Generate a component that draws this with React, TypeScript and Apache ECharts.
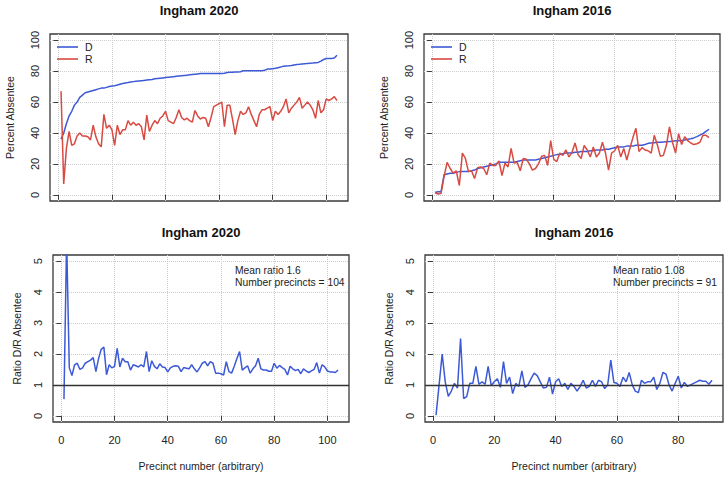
import React, { useEffect, useRef } from "react";
import * as echarts from "echarts";

// ---------- data ----------
const d2020 = [
  36, 40, 46, 51, 54, 58, 60, 63, 64.5, 66, 66.5, 67, 67.5, 68, 68.5, 69, 69, 69.5, 70, 70.3,
  70.6, 71, 71.5, 72, 72.3, 72.6, 73, 73.2, 73.4, 73.6, 73.8, 74, 74.2, 74.4, 74.6, 75, 75.2, 75.4, 75.6, 75.8,
  76, 76.2, 76.4, 76.6, 76.8, 77, 77.2, 77.4, 77.6, 77.8, 78, 78.2, 78.4, 78.5, 78.5, 78.5, 78.5, 78.5, 78.5, 78.5,
  78.5, 78.6, 79.1, 79.2, 79.3, 79.4, 79.5, 79.6, 80.2, 80.2, 80.2, 80.2, 80.2, 80.2, 80.2, 80.2, 80.5, 81.3, 81.4, 81.6,
  81.8, 82.2, 82.6, 83.2, 83.3, 83.4, 83.6, 84, 84.3, 84.4, 84.6, 84.8, 85, 85.1, 85.2, 85.4, 85.6, 86.5, 87.5, 88.2,
  88.2, 88.2, 88.5, 90.3,
];
const r2020 = [
  67, 7, 30, 41, 32, 33, 38, 40, 38, 38, 37.5, 35.5, 45, 37.5, 33, 31, 52, 43, 45, 42,
  32, 45, 39, 42, 42, 48, 45, 47, 45, 46, 44, 35.5, 51.5, 41, 45, 48, 46, 49.5, 51, 54,
  48, 47, 46, 50, 55, 50, 48.5, 49.5, 48, 47, 54.5, 51, 49, 50, 49.5, 44, 50, 57, 58, 59,
  60, 44, 58, 58, 49, 39, 48, 54, 52, 53, 57, 52, 48, 44, 52, 55, 55, 56, 57, 48,
  54, 52, 54, 57, 62, 53, 56, 58, 60, 63, 56, 58, 60, 58, 55, 49.5, 61, 53, 55, 62,
  61, 62, 63.5, 61,
];
const d2016 = [
  1.5, 2, 2, 13, 13.5, 14, 14, 14.5, 15, 15, 15, 15, 15.5, 16, 17, 17.5, 18, 18.5, 19, 19.5,
  20, 21, 21, 21, 21, 21, 21, 21.5, 22, 22.5, 22.5, 22.5, 22.5, 22.5, 23, 23.5, 24, 24.5, 25, 25.5,
  26, 26, 26.5, 27, 27, 27, 27.5, 27.5, 28, 28, 28, 28.5, 28.5, 29, 29, 29, 29.5, 29.5, 30, 30.5,
  31, 31, 31, 31.5, 31.5, 31.5, 32, 32, 32, 32.5, 33.3, 33.5, 33.7, 34, 34, 34.2, 34.3, 34.4, 34.6, 35,
  35, 35.2, 35.5, 35.9, 36.2, 36.8, 37.6, 38.6, 39.6, 41, 42.4,
];
const r2016 = [
  1.5, 0.5, 1, 12, 21, 17, 14, 15.5, 6, 27, 23.5, 15, 15.5, 10.5, 17.5, 18, 17, 13, 20.5, 19,
  19, 22, 12.5, 20.5, 18, 30, 20.5, 21, 15.5, 23.5, 23, 20, 16, 17, 20, 25, 25.5, 19, 35, 23,
  21.5, 27, 25.5, 29, 24.5, 27.5, 33.5, 26, 23.5, 32, 29, 24.5, 31, 24.5, 27, 34, 27, 16, 27, 28.5,
  32, 24.5, 30, 22.5, 30, 37, 43, 28, 30.5, 29, 28.5, 27, 38.5, 32.5, 25, 25.5, 32, 44, 34, 27,
  39.5, 32.5, 37.5, 35, 33.5, 32.5, 33, 34, 38.5, 38.5, 37,
];
const ratio2020 = [
  0.54, 5.7, 1.55, 1.3, 1.65, 1.7, 1.5, 1.55, 1.7, 1.75, 1.8, 1.88, 1.43, 1.85, 2.15, 2.22, 1.33, 1.65, 1.55, 1.6,
  2.18, 1.58, 1.86, 1.75, 1.75, 1.48, 1.65, 1.62, 1.58, 1.65, 1.58, 2.08, 1.43, 1.78, 1.6, 1.52, 1.68, 1.58, 1.56, 1.42,
  1.55, 1.6, 1.62, 1.6, 1.43, 1.56, 1.54, 1.52, 1.65, 1.52, 1.42, 1.55, 1.7, 1.75, 1.62, 1.75, 1.7, 1.38, 1.38, 1.36,
  1.32, 1.75, 1.43, 1.38, 1.6, 1.85, 2.08, 1.48, 1.55, 1.62, 1.38, 1.52, 1.62, 1.86, 1.52, 1.48, 1.48, 1.44, 1.44, 1.7,
  1.54, 1.63, 1.56, 1.5, 1.32, 1.6, 1.52, 1.46, 1.5, 1.36, 1.52, 1.45, 1.4, 1.45, 1.5, 1.72, 1.38, 1.65, 1.58, 1.45,
  1.42, 1.42, 1.4, 1.48,
];
const ratio2016 = [
  0.02, 1.0, 2.0, 1.1, 0.63, 0.8, 1.05, 0.9, 2.5, 0.56, 0.62, 1.05, 1.05, 1.6, 1.02, 1.1, 1.02, 1.6, 0.98, 1.1,
  1.2, 0.92, 1.75, 1.05, 1.25, 0.72, 1.05, 0.95, 1.45, 0.92, 1.0, 1.2, 1.38, 1.3, 1.1, 0.9, 0.92, 1.25, 0.7, 1.1,
  1.2, 0.95, 1.05, 0.85, 1.05, 0.95, 0.8, 0.95, 1.15, 0.9, 0.95, 1.15, 0.95, 1.15, 1.1, 0.88, 1.0, 1.8, 1.08, 1.05,
  0.95, 1.25, 1.1, 1.4, 1.0, 0.8, 0.75, 1.15, 1.05, 1.1, 1.1, 1.25, 0.85, 1.05, 1.4, 1.35, 1.0, 0.8, 1.05, 1.28,
  0.9, 1.08, 0.95, 1.0, 1.05, 1.1, 1.15, 1.12, 1.12, 1.02, 1.15,
];

const titles = ["Ingham 2020", "Ingham 2016", "Ingham 2020", "Ingham 2016"];
const notes2020 = ["Mean ratio 1.6", "Number precincts = 104"];
const notes2016 = ["Mean ratio 1.08", "Number precincts = 91"];
const xTicks2020 = [0, 20, 40, 60, 80, 100];
const xTicks2016 = [0, 20, 40, 60, 80];
const yTicksPct = [0, 20, 40, 60, 80, 100];
const yTicksRatio = [0, 1, 2, 3, 4, 5];

// ---------- styles ----------
const FONT = "'Liberation Sans', Arial, Helvetica, sans-serif";
const BLUE = "#3d5ad6";
const RED = "#d84a42";
const INK = "#222";
const FS = 10.5;

const pairs = (arr: number[]) => arr.map((v, i) => [i + 1, v]);
const pad = (lo: number, hi: number) => {
  const d = (hi - lo) * 0.04;
  return { min: lo - d, max: hi + d };
};

export default function App() {
  const ref = useRef<HTMLDivElement>(null);
  useEffect(() => {
    document.body.style.margin = "0";
    if (!ref.current) return;
    const chart = echarts.init(ref.current, undefined, { renderer: "svg" });

    const grids = [
      { left: 50, top: 34, width: 298, height: 167 },
      { left: 424, top: 34, width: 296, height: 167 },
      { left: 53, top: 255, width: 296, height: 167 },
      { left: 425, top: 255, width: 298, height: 167 },
    ].map((g) => ({ ...g, show: true, borderColor: "#3a3a3a", borderWidth: 1.3, containLabel: false }));

    const splitLine = { show: true, lineStyle: { type: "dotted" as const, color: "#cdcdcd", width: 1 } };
    const tick = (vals: number[]) => ({ show: true, length: 5, customValues: vals, lineStyle: { color: "#3a3a3a", width: 1 } });

    const xAxis = (gi: number, n: number, vals: number[], labels: boolean) => ({
      type: "value" as const,
      gridIndex: gi,
      ...pad(1, n),
      axisLine: { show: false },
      axisTick: tick(vals),
      axisLabel: { show: labels, customValues: vals, margin: 12, fontSize: 11, color: INK, fontFamily: FONT },
      splitLine,
      name: labels ? "Precinct number (arbitrary)" : "",
      nameLocation: "middle" as const,
      nameGap: 38,
      nameTextStyle: { fontSize: FS, color: INK, fontFamily: FONT },
    });
    const yAxis = (gi: number, lo: number, hi: number, vals: number[], name: string, gap: number) => ({
      type: "value" as const,
      gridIndex: gi,
      ...pad(lo, hi),
      axisLine: { show: false },
      axisTick: tick(vals),
      axisLabel: { show: true, customValues: vals, rotate: 90, margin: 10, fontSize: 11, color: INK, fontFamily: FONT },
      splitLine,
      name,
      nameLocation: "middle" as const,
      nameRotate: 90,
      nameGap: gap,
      nameTextStyle: { fontSize: FS, color: INK, fontFamily: FONT },
    });

    const line = (name: string, data: number[], color: string, gi: number, extra: any = {}) => ({
      type: "line" as const,
      name,
      xAxisIndex: gi,
      yAxisIndex: gi,
      data: pairs(data),
      symbol: "none",
      showSymbol: false,
      clip: true,
      lineStyle: { color, width: 1.5 },
      itemStyle: { color },
      ...extra,
    });
    const oneLine = {
      markLine: {
        silent: true,
        symbol: "none",
        label: { show: false },
        lineStyle: { color: "#333", width: 1.4, type: "solid" },
        data: [{ yAxis: 1 }],
      },
    };

    const titlePos = [
      [199, 10],
      [572, 10],
      [201, 232],
      [574, 232],
    ];
    const graphic: any[] = titles.map((t, i) => ({
      type: "text",
      x: titlePos[i][0],
      y: titlePos[i][1],
      style: { text: t, align: "center", verticalAlign: "middle", font: `bold 13px ${FONT}`, fill: "#111" },
    }));
    notes2020.forEach((t, i) =>
      graphic.push({ type: "text", x: 235, y: 270 + i * 12, style: { text: t, align: "left", verticalAlign: "middle", font: `10.3px ${FONT}`, fill: INK } })
    );
    notes2016.forEach((t, i) =>
      graphic.push({ type: "text", x: 613, y: 270 + i * 12, style: { text: t, align: "left", verticalAlign: "middle", font: `10.3px ${FONT}`, fill: INK } })
    );

    const legend = (left: number) => ({
      left,
      top: 41,
      padding: 0,
      orient: "vertical" as const,
      icon: "rect",
      itemWidth: 21,
      itemHeight: 1.6,
      itemGap: 0,
      selectedMode: false,
      data: ["D", "R"],
      textStyle: { fontSize: FS, lineHeight: 12, color: INK, fontFamily: FONT, padding: [0, 0, 0, 2] },
    });

    chart.setOption({
      animation: false,
      backgroundColor: "#fff",
      grid: grids,
      legend: [legend(57), legend(431)],
      xAxis: [
        xAxis(0, d2020.length, xTicks2020, false),
        xAxis(1, d2016.length, xTicks2016, false),
        xAxis(2, ratio2020.length, xTicks2020, true),
        xAxis(3, ratio2016.length, xTicks2016, true),
      ],
      yAxis: [
        yAxis(0, 0, 100, yTicksPct, "Percent Absentee", 35),
        yAxis(1, 0, 100, yTicksPct, "Percent Absentee", 35),
        yAxis(2, 0, 5, yTicksRatio, "Ratio D/R Absentee", 31),
        yAxis(3, 0, 5, yTicksRatio, "Ratio D/R Absentee", 31),
      ],
      series: [
        line("D", d2020, BLUE, 0),
        line("R", r2020, RED, 0),
        line("D", d2016, BLUE, 1),
        line("R", r2016, RED, 1),
        line("ratio2020", ratio2020, BLUE, 2, oneLine),
        line("ratio2016", ratio2016, BLUE, 3, oneLine),
      ],
      graphic,
    });
    return () => chart.dispose();
  }, []);
  return <div ref={ref} style={{ width: 724, height: 477 }} />;
}
